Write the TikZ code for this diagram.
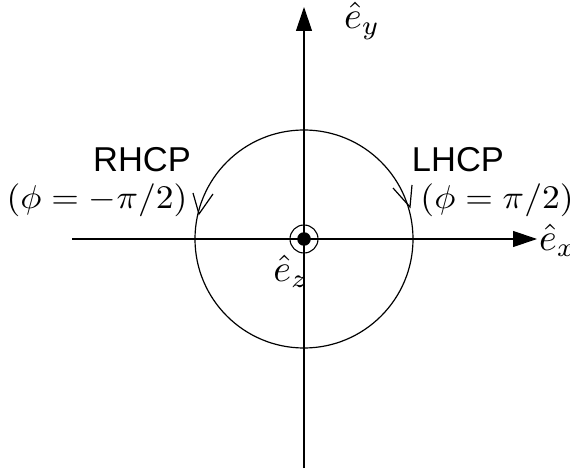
\documentclass[tikz,border=0pt]{standalone}
\usepackage{graphicx}
\usepackage{fontspec}
\newfontfamily\arialfont{Liberation Sans}
\newcommand{\mybigmath}[1]{\scalebox{3.55}[3.3]{$#1$}}
\newcommand{\myvecmath}[1]{\scalebox{3.8}{$#1$}}
\usetikzlibrary{arrows.meta}
\begin{document}
\begin{tikzpicture}[x=1pt,y=-1pt,
  axisline/.style={line width=1.2pt,-{Triangle[length=24pt,width=16pt]}},
  ringline/.style={line width=1.2pt},
  barb/.style={line width=1.2pt},
  sanslabel/.style={font=\arialfont\fontsize{34.5}{40}\selectfont,inner sep=0pt},
  mathlabel/.style={inner sep=0pt}]
\useasboundingbox (0,0) rectangle (570,470);
% axes
\coordinate (O) at (304,239);
\coordinate (xs) at (72,239);
\coordinate (xe) at (537,239);
\coordinate (ys) at (304,468);
\coordinate (ye) at (304,7);
\draw[axisline] (xs) -- (xe);
\draw[axisline] (ys) -- (ye);
% circle
\draw[ringline] (O) circle[radius=109];
% center symbol
\draw[line width=1.1pt] (O) circle[radius=14];
\fill (O) circle[radius=6.8];
% direction barbs
\coordinate (lt) at (199,214);
\coordinate (rt) at (410,207);
\draw[barb] (lt) ++(-6,-21) -- (lt) -- ++(14,-20);
\draw[barb] (rt) ++(-17,-19) -- (rt) -- ++(2,-22);
% labels
\node[sanslabel] (rh) at (142,160) {RHCP};
\node[mathlabel] (rp) at (97,200) {\mybigmath{(\phi=-\pi/2)}};
\node[sanslabel] (lh) at (458,160) {LHCP};
\node[mathlabel] (lp) at (497,200) {\mybigmath{(\phi=\pi/2)}};
\node[mathlabel,anchor=west] (ey) at (344,21) {\myvecmath{\hat e_y}};
\node[mathlabel,anchor=west] (ex) at (539,240) {\myvecmath{\hat e_x}};
\node[mathlabel] (ez) at (291,271) {\myvecmath{\hat e_z}};
\end{tikzpicture}
\end{document}
